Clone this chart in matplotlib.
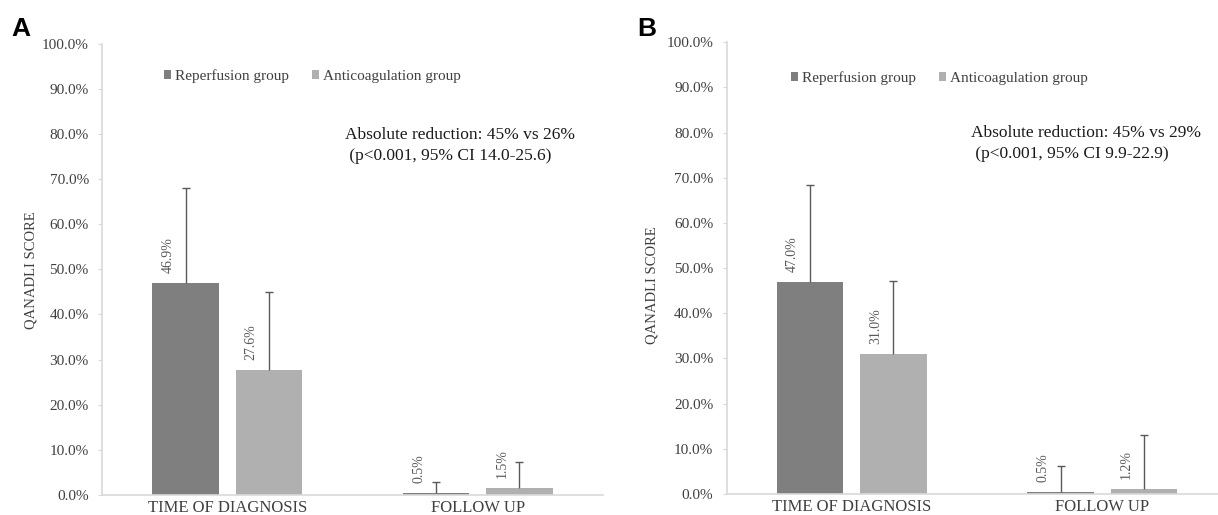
import numpy as np
import matplotlib
matplotlib.use("Agg")
from matplotlib import pyplot as plt
import matplotlib.ticker as mticker

categories = ["TIME OF DIAGNOSIS", "FOLLOW UP"]
groups = ["Reperfusion group", "Anticoagulation group"]

# panel A
rep_a = [46.9, 0.5]
anti_a = [27.6, 1.5]
rep_err_a = [21.1, 2.3]
anti_err_a = [17.3, 5.9]
note_a = ["Absolute reduction: 45% vs 26%", " (p<0.001, 95% CI 14.0-25.6)"]

# panel B
rep_b = [47.0, 0.5]
anti_b = [31.0, 1.2]
rep_err_b = [21.3, 5.8]
anti_err_b = [16.2, 11.8]
note_b = ["Absolute reduction: 45% vs 29%", " (p<0.001, 95% CI 9.9-22.9)"]

plt.rcParams['font.family'] = ['Liberation Serif', 'DejaVu Serif']

W, H = 1218, 515
fig = plt.figure(figsize=(W / 100, H / 100), dpi=100)

dark = '#7f7f7f'
light = '#b0b0b0'
errc = '#595959'
spine = '#d9d9d9'


def fx(px):
    return px / W


def fy(py):
    return 1 - py / H


def panel(rect, rep, anti, rep_err, anti_err, note, letter, letter_xy,
          leg_xy, note_xy, ylab_xy):
    ax = fig.add_axes(rect)
    x = np.arange(len(categories))
    bw = 0.265
    off = 0.166
    ekw = dict(ecolor=errc, elinewidth=1, capsize=3, capthick=1)
    handles = []
    for xs, vals, errs, col, lab in ((x - off, rep, rep_err, dark, groups[0]),
                                     (x + off, anti, anti_err, light, groups[1])):
        b = ax.bar(xs, vals, bw, color=col, label=lab,
                   yerr=[np.zeros(len(vals)), errs], error_kw=ekw)
        # keep only the upper cap
        for cl in b.errorbar.lines[1]:
            if np.allclose(cl.get_ydata(), vals):
                cl.set_visible(False)
        handles.append(b)
        for xi, v in zip(xs, vals):
            ax.text(xi - 0.07, v + 2.2, f"{v:.1f}%", rotation=90,
                    ha='center', va='bottom', fontsize=10, color=errc)
    ax.set_xlim(-0.5, 1.5)
    ax.set_ylim(0, 100)
    ax.set_yticks(np.arange(0, 101, 10))
    ax.yaxis.set_major_formatter(mticker.PercentFormatter(decimals=1))
    ax.set_xticks(x)
    ax.set_xticklabels(categories, fontsize=12, color='#404040')
    ax.tick_params(axis='x', length=0, pad=3.5)
    ax.tick_params(axis='y', length=3, color=spine, pad=6.5,
                   labelsize=11, labelcolor='#404040')
    for s in ('top', 'right'):
        ax.spines[s].set_visible(False)
    for s in ('left', 'bottom'):
        ax.spines[s].set_color(spine)
        ax.spines[s].set_linewidth(1.2)

    fig.legend(handles=handles, loc='center left',
               bbox_to_anchor=(fx(leg_xy[0]), fy(leg_xy[1])),
               ncol=2, frameon=False, fontsize=11, labelcolor='#404040',
               handlelength=0.46, handleheight=0.46, handletextpad=0.23,
               columnspacing=1.55, borderpad=0, borderaxespad=0)
    fig.text(fx(note_xy[0]), fy(note_xy[1]), note[0], fontsize=12.5,
             color='#1a1a1a', ha='left', va='center')
    fig.text(fx(note_xy[0]), fy(note_xy[1] + 21), note[1], fontsize=12.5,
             color='#1a1a1a', ha='left', va='center')
    fig.text(fx(ylab_xy[0]), fy(ylab_xy[1]), "QANADLI SCORE", rotation=90,
             fontsize=10.5, color='#404040', ha='center', va='center')
    fig.text(fx(letter_xy[0]), fy(letter_xy[1]), letter, fontsize=19,
             fontweight='bold', family='Liberation Sans',
             ha='left', va='center')
    return ax


wa = 501 / W
panel([fx(102), fy(495), wa, (495 - 43.5) / H], rep_a, anti_a,
      rep_err_a, anti_err_a, note_a, "A", (11, 29), (164, 76), (345, 135),
      (31, 270))
panel([fx(726.5), fy(494), wa, (494 - 42.3) / H], rep_b, anti_b,
      rep_err_b, anti_err_b, note_b, "B", (637, 29), (791, 78), (971, 133),
      (652, 285))

fig.savefig("out.png", dpi=100)
